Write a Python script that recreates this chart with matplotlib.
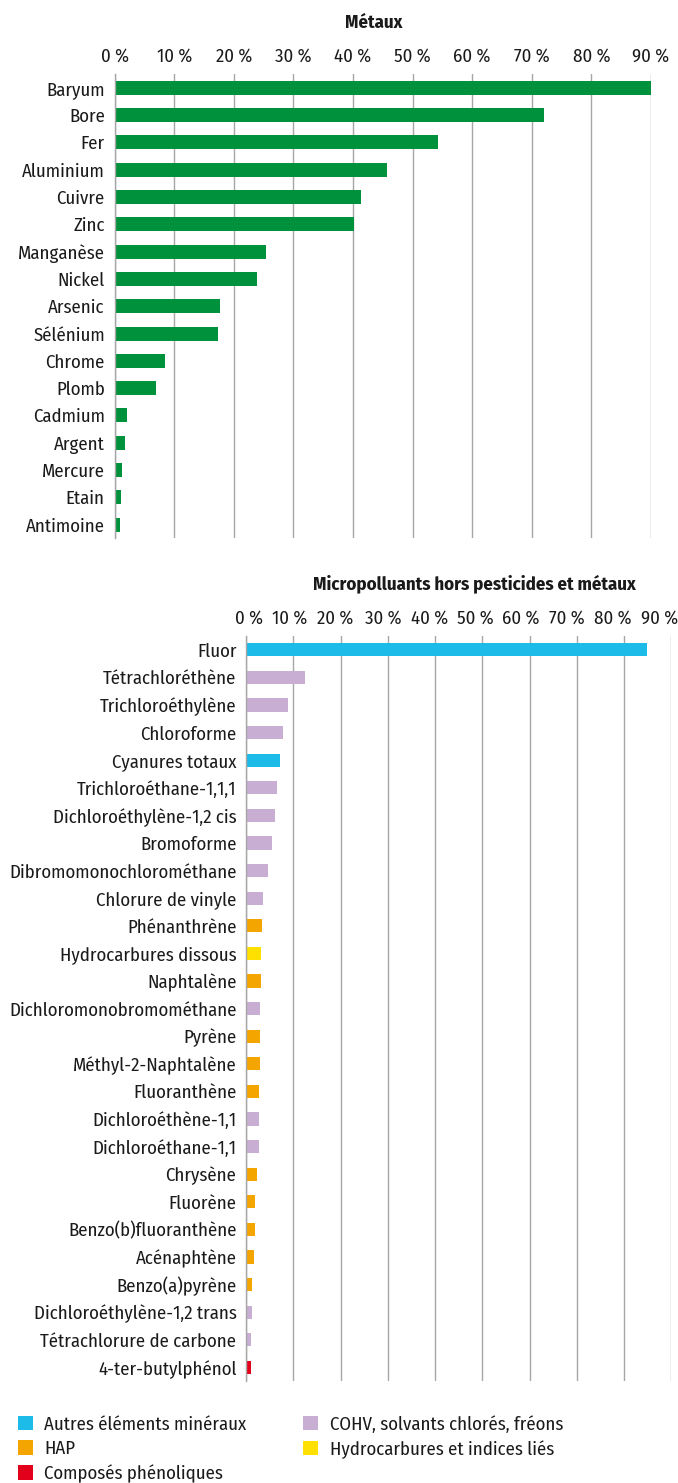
import matplotlib
matplotlib.use("Agg")
import matplotlib.pyplot as plt
from matplotlib.patches import Patch
from matplotlib.transforms import ScaledTranslation

plt.rcParams['font.family'] = ['Fira Sans Condensed', 'DejaVu Sans']

# Métaux
metal_names = ['Baryum', 'Bore', 'Fer', 'Aluminium', 'Cuivre', 'Zinc', 'Manganèse',
               'Nickel', 'Arsenic', 'Sélénium', 'Chrome', 'Plomb', 'Cadmium',
               'Argent', 'Mercure', 'Etain', 'Antimoine']
metal_values = [90.0, 72.0, 54.2, 45.7, 41.3, 40.2, 25.4, 23.9, 17.7, 17.3,
                8.5, 7.0, 2.1, 1.8, 1.3, 1.0, 0.9]

# Micropolluants hors pesticides et métaux
micro_names = ['Fluor', 'Tétrachloréthène', 'Trichloroéthylène', 'Chloroforme',
               'Cyanures totaux', 'Trichloroéthane-1,1,1', 'Dichloroéthylène-1,2 cis',
               'Bromoforme', 'Dibromomonochlorométhane', 'Chlorure de vinyle',
               'Phénanthrène', 'Hydrocarbures dissous', 'Naphtalène',
               'Dichloromonobromométhane', 'Pyrène', 'Méthyl-2-Naphtalène',
               'Fluoranthène', 'Dichloroéthène-1,1', 'Dichloroéthane-1,1',
               'Chrysène', 'Fluorène', 'Benzo(b)fluoranthène', 'Acénaphtène',
               'Benzo(a)pyrène', 'Dichloroéthylène-1,2 trans',
               'Tétrachlorure de carbone', '4-ter-butylphénol']
micro_values = [84.8, 12.4, 8.9, 7.8, 7.2, 6.6, 6.1, 5.5, 4.7, 3.6, 3.4, 3.2, 3.2,
                2.9, 2.9, 2.9, 2.7, 2.7, 2.7, 2.3, 1.9, 1.9, 1.6, 1.3, 1.3, 1.0, 1.0]
micro_groups = ['min', 'cohv', 'cohv', 'cohv', 'min', 'cohv', 'cohv', 'cohv', 'cohv',
                'cohv', 'hap', 'hydro', 'hap', 'cohv', 'hap', 'hap', 'hap', 'cohv',
                'cohv', 'hap', 'hap', 'hap', 'hap', 'hap', 'cohv', 'cohv', 'phen']

group_labels = {'min': 'Autres éléments minéraux', 'hap': 'HAP',
                'phen': 'Composés phénoliques', 'cohv': 'COHV, solvants chlorés, fréons',
                'hydro': 'Hydrocarbures et indices liés'}
group_colors = {'min': '#1cbbe8', 'hap': '#f5a500', 'phen': '#e2001a',
                'cohv': '#c8aed2', 'hydro': '#ffe000'}

ticks = list(range(0, 100, 10))
tick_labels = [f'{t} %' for t in ticks]

FS = 13.5
GRID = '#a6a6a6'
TXT = '#1a1a1a'


def style_axis(ax, n):
    ax.set_xlim(0, 90)
    ax.set_ylim(n - 0.5, -0.5)
    ax.xaxis.tick_top()
    ax.set_xticks(ticks)
    ax.set_xticklabels(tick_labels, fontsize=FS, color=TXT)
    ax.tick_params(axis='x', length=0, pad=6)
    ax.tick_params(axis='y', length=0, pad=7, labelsize=FS, labelcolor=TXT)
    for s in ['top', 'right', 'bottom']:
        ax.spines[s].set_visible(False)
    ax.spines['left'].set_color(GRID)
    ax.spines['left'].set_linewidth(1)
    ax.grid(axis='x', color=GRID, linewidth=1)
    ax.set_axisbelow(True)


fig = plt.figure(figsize=(6.78, 14.83), dpi=100)

# Top chart
ax1 = fig.add_axes([0.169, 0.637, 0.791, 0.313])
ax1.barh(range(len(metal_names)), metal_values, height=0.51, color='#00913c')
ax1.set_yticks(range(len(metal_names)))
ax1.set_yticklabels(metal_names)
style_axis(ax1, len(metal_names))
fig.text(374 / 678, 1 - 23 / 1483, 'Métaux', ha='center', va='center',
         fontsize=FS, fontweight='bold', color=TXT)

# Bottom chart
ax2 = fig.add_axes([0.363, 0.0687, 0.627, 0.5024])
ax2.barh(range(len(micro_names)), micro_values, height=0.48,
         color=[group_colors[g] for g in micro_groups])
ax2.set_yticks(range(len(micro_names)))
ax2.set_yticklabels(micro_names)
style_axis(ax2, len(micro_names))
# tick labels are packed a little to the left so "90 %" stays inside the figure
shift_px = [3, -4, -5, -5, -5, -7, -9, -10, -11, -12]
for lbl, dx in zip(ax2.get_xticklabels(), shift_px):
    lbl.set_transform(lbl.get_transform() + ScaledTranslation(dx / 100, 0, fig.dpi_scale_trans))
fig.text(474 / 678, 1 - 584 / 1483, 'Micropolluants hors pesticides et métaux',
         ha='center', va='center', fontsize=FS, fontweight='bold', color=TXT)

# Legend
order = ['min', 'hap', 'phen', 'cohv', 'hydro']
handles = [Patch(facecolor=group_colors[k], edgecolor='none', label=group_labels[k])
           for k in order]
fig.legend(handles=handles, loc='upper left', bbox_to_anchor=(0.015, 1 - 1408 / 1483),
           ncol=2, frameon=False, fontsize=FS, handlelength=0.8, handleheight=0.8,
           handletextpad=0.6, columnspacing=3.05, labelspacing=0.35, borderaxespad=0,
           labelcolor=TXT)

fig.savefig('out.png', dpi=100)
